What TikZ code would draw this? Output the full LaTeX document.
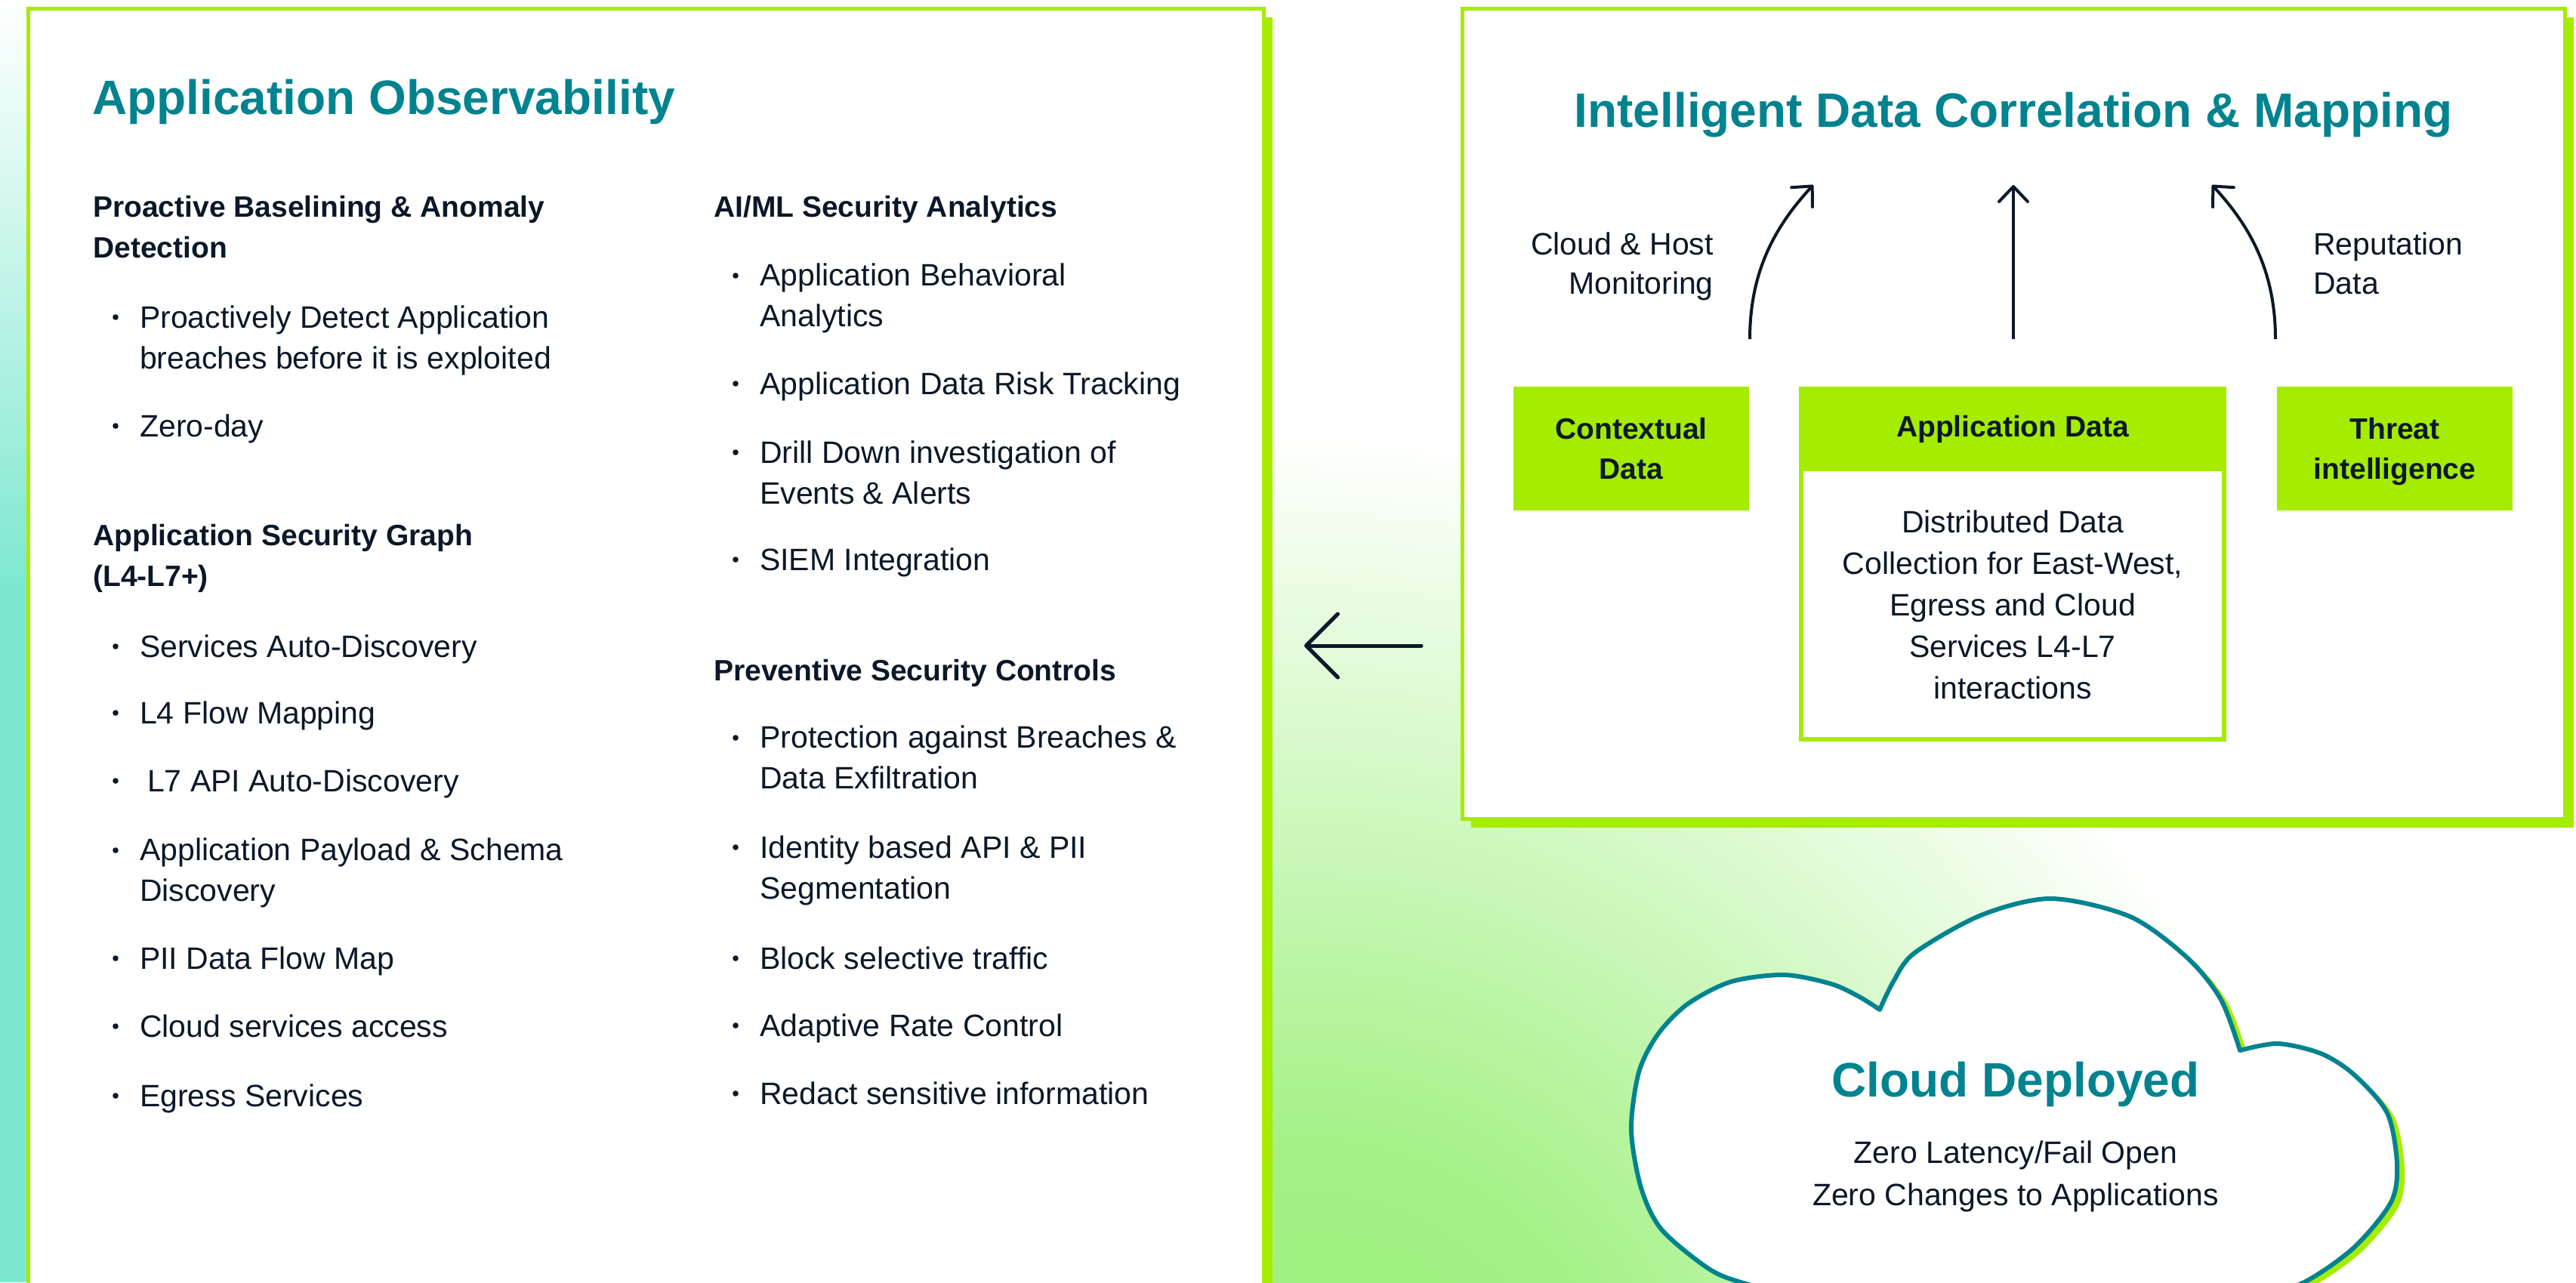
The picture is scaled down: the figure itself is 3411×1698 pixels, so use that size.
\documentclass[tikz,border=0pt]{standalone}
\usepackage{fontspec}
\setmainfont{Liberation Sans}
\usetikzlibrary{arrows.meta,shadows}
\definecolor{limeg}{HTML}{A5EC00}
\definecolor{tealc}{HTML}{00838F}
\definecolor{ink}{HTML}{0B1828}
\definecolor{mintc}{HTML}{7DE8CF}
\definecolor{glowc}{HTML}{9BF07A}
\pgfdeclareradialshading{glowshade}{\pgfpointorigin}{color(0bp)=(glowc); color(8bp)=(glowc!90!white); color(25bp)=(white); color(50bp)=(white)}
\newcommand\cloudpathA{plot[smooth] coordinates {(2400,1722) (2305,1698) (2261,1679) (2200,1628) (2173,1573) (2160,1496) (2170,1420) (2195,1370) (2234,1330) (2292,1300) (2363,1291) (2425,1303) (2462,1320) (2489,1337)}
 -- plot[smooth] coordinates {(2489,1337) (2507,1300) (2535,1262) (2623,1212) (2716,1190) (2821,1214) (2897,1269) (2941,1324) (2966,1391)}
 -- plot[smooth] coordinates {(2966,1391) (3016,1382) (3073,1395) (3117,1423) (3161,1474) (3174,1541) (3166,1592) (3117,1652) (3051,1698) (2980,1722)} -- cycle}
\begin{document}
\begin{tikzpicture}[x=1pt,y=-1pt,
  bigbox/.style={draw=limeg, line width=5pt, fill=white, outer sep=0pt, inner sep=0pt, anchor=north west,
    drop shadow={shadow xshift=11pt, shadow yshift=-11pt, fill=limeg, opacity=1}},
  greenbox/.style={fill=limeg, outer sep=0pt, inner sep=0pt, align=center, text=ink,
    font=\bfseries\fontsize{39}{53}\selectfont},
  bodyt/.style={font=\fontsize{41}{54}\selectfont, text=ink, inner sep=0pt, align=left, anchor=base west},
  headt/.style={font=\bfseries\fontsize{39}{54}\selectfont, text=ink, inner sep=0pt, align=left, anchor=base west},
  titlet/.style={font=\bfseries\fontsize{64}{70}\selectfont, text=tealc, inner sep=0pt},
  labelt/.style={font=\fontsize{41}{52}\selectfont, text=ink, inner sep=0pt},
  conn/.style={draw=ink, line width=4pt, -{Straight Barb[length=20pt,width=38pt,round]}},
  bigarrow/.style={draw=ink, line width=5pt, line cap=round, -{Straight Barb[length=42pt,width=84pt,round]}},
  dotb/.style={fill=ink}]
\useasboundingbox (0,0) rectangle (3411,1698);
\clip (0,0) rectangle (3411,1698);
% background
\fill[white] (0,0) rectangle (3411,1698);
\shade[shading=glowshade] (1720,1950) circle (1380);
\shade[top color=white, bottom color=mintc] (0,0) rectangle (60,780);
\fill[mintc] (0,779) rectangle (60,1698);

% ===== left panel =====
\node[bigbox, minimum width=1636pt, minimum height=1750pt] (obs) at (37.5,11.5) {};
\node[titlet, anchor=base west] (obsT) at (122,151) {Application Observability};

% multi-line nodes are anchored at the baseline of their last line
\node[headt] (h1) at (123,341) {Proactive Baselining \& Anomaly\\Detection};
\node[bodyt] (l1) at (185,488) {Proactively Detect Application\\breaches before it is exploited};
\node[bodyt] (l2) at (185,578) {Zero-day};
\node[headt] (h2) at (123,776) {Application Security Graph\\(L4-L7+)};
\node[bodyt] (l3) at (185,870) {Services Auto-Discovery};
\node[bodyt] (l4) at (185,958) {L4 Flow Mapping};
\node[bodyt] (l5) at (185,1048) {\hspace*{10pt}L7 API Auto-Discovery};
\node[bodyt] (l6) at (185,1193) {Application Payload \& Schema\\Discovery};
\node[bodyt] (l7) at (185,1283) {PII Data Flow Map};
\node[bodyt] (l8) at (185,1373) {Cloud services access};
\node[bodyt] (l9) at (185,1465) {Egress Services};

\node[headt] (h3) at (945,287) {AI/ML Security Analytics};
\node[bodyt] (r1) at (1006,432) {Application Behavioral\\Analytics};
\node[bodyt] (r2) at (1006,522) {Application Data Risk Tracking};
\node[bodyt] (r3) at (1006,667) {Drill Down investigation of\\Events \& Alerts};
\node[bodyt] (r4) at (1006,755) {SIEM Integration};
\node[headt] (h4) at (945,901) {Preventive Security Controls};
\node[bodyt] (r5) at (1006,1044) {Protection against Breaches \&\\Data Exfiltration};
\node[bodyt] (r6) at (1006,1190) {Identity based API \& PII\\Segmentation};
\node[bodyt] (r7) at (1006,1283) {Block selective traffic};
\node[bodyt] (r8) at (1006,1372) {Adaptive Rate Control};
\node[bodyt] (r9) at (1006,1462) {Redact sensitive information};

\foreach \yy in {434,578,870,958,1048,1140,1283,1373,1465} {\fill[dotb] (153,\yy-14) circle (3.8);}
\foreach \yy in {379,522,613,755,991,1136,1283,1372,1462} {\fill[dotb] (974,\yy-14) circle (3.8);}

% ===== right panel =====
\node[bigbox, minimum width=1460pt, minimum height=1073pt] (idc) at (1936.5,11.5) {};
\node[titlet, anchor=base] (idcT) at (2666,168) {Intelligent Data Correlation \& Mapping};

\node[greenbox, minimum width=312pt, minimum height=164pt] (ctx) at (2160,594) {Contextual\\Data};
\node[draw=limeg, line width=6pt, fill=white, outer sep=0pt, minimum width=560pt, minimum height=464pt] (appb) at (2665,747) {};
\node[greenbox, minimum width=566pt, minimum height=112pt] (apph) at (2665,568) {Application Data};
\node[greenbox, minimum width=312pt, minimum height=164pt] (thr) at (3171,594) {};
\node[greenbox] (thrT) at (3171,598) {Threat\\intelligence};
\node[labelt, align=center, font=\fontsize{41}{55}\selectfont] (appt) at (2665,801) {Distributed Data\\Collection for East-West,\\Egress and Cloud\\Services L4-L7\\interactions};

\node[labelt, align=right, anchor=base east] (lblL) at (2269,389) {Cloud \& Host\\Monitoring};
\node[labelt, align=left, anchor=base west] (lblR) at (3063,389) {Reputation\\Data};

\coordinate (a1s) at (2317,449); \coordinate (a1e) at (2401,245);
\coordinate (a2s) at (2666,449); \coordinate (a2e) at (2666,245);
\coordinate (a3s) at (3013,449); \coordinate (a3e) at (2929,245);
\draw[conn] (a1s) .. controls (2317,360) and (2350,300) .. (a1e);
\draw[conn] (a2s) -- (a2e);
\draw[conn] (a3s) .. controls (3013,360) and (2980,300) .. (a3e);

% ===== arrow between panels =====
\coordinate (ls) at (1882,855); \coordinate (le) at (1727,855);
\draw[bigarrow] (ls) -- (le);

% ===== cloud =====
\fill[limeg, shift={(10,6)}] \cloudpathA;
\filldraw[fill=white, draw=tealc, line width=6pt, line join=round] \cloudpathA;
\node[titlet, anchor=base] (cldT) at (2669,1452) {Cloud Deployed};
\node[labelt, align=center, font=\fontsize{41}{56}\selectfont] (cldS) at (2669,1558) {Zero Latency/Fail Open\\Zero Changes to Applications};
\end{tikzpicture}
\end{document}
